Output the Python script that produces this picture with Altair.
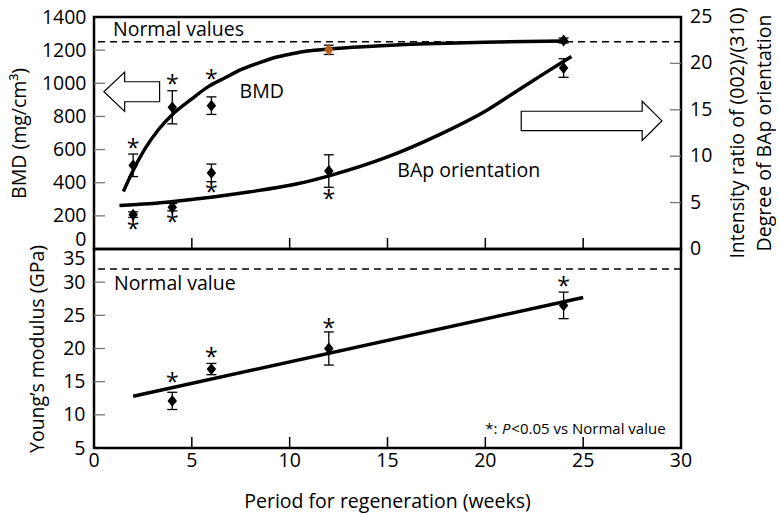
import altair as alt
import pandas as pd

FONT = "Open Sans"
FS = 19.5

# ---------------- data ----------------
weeks = [2, 4, 6, 12, 24]
bmd_mean = [505, 855, 865, 1202, 1258]
bmd_sd = [68, 100, 53, 28, 15]
bap_mean = [3.7, 4.5, 8.2, 8.4, 19.5]
bap_sd = [0.3, 0.4, 0.95, 1.75, 1.0]

ym_weeks = [4, 6, 12, 24]
ym_mean = [12.1, 16.9, 20.0, 26.5]
ym_sd = [1.3, 0.85, 2.5, 2.0]

bmd_fit_weeks = [1.5, 2.0, 2.6, 3.3, 4.1, 5.0, 5.8, 6.7, 7.5, 8.4, 9.2, 10.1, 10.9, 12, 14, 17, 20, 24]
bmd_fit = [347, 474, 604, 721, 822, 906, 977, 1033, 1082, 1122, 1154, 1178, 1195, 1207, 1222, 1238, 1248, 1256]
bap_fit_weeks = [1.3, 2.8, 5.3, 7.9, 10.4, 12.1, 15.0, 17.6, 20.1, 21.3, 23.0, 24.4]
bap_fit = [4.7, 4.87, 5.41, 6.14, 7.03, 7.94, 9.92, 12.27, 14.98, 16.6, 18.9, 20.75]
ym_fit_weeks = [2, 25]
ym_fit = [12.8, 27.7]

bmd_normal = [1250]
ym_normal = [32]

bmd_star_weeks = [2, 4, 6]
bmd_star_y = [630, 1014, 1041]
bap_star_weeks = [2, 4, 6, 12]
bap_star_y = [2.46, 3.25, 6.43, 5.7]
ym_star_weeks = [4, 6, 12, 24]
ym_star_y = [15.44, 19.2, 23.48, 29.9]

top_labels = ["Normal values", "BMD", "BAp orientation"]
top_label_weeks = [0.97, 7.44, 15.5]
top_label_y = [1285, 911, 433]

arrow_kind = ["left", "right"]
arrow_weeks = [1.93, 25.43]
arrow_y = [949, 773]

right_title = ["Intensity ratio of (002)/(310)", "Degree of BAp orientation"]
x_title = "Period for regeneration (weeks)"

# tick positions
x_ticks = [5, 10, 15, 20, 25]
x_labels = [0, 5, 10, 15, 20, 25, 30]
bmd_ticks = [200, 400, 600, 800, 1000, 1200]
bmd_labels = [0, 200, 400, 600, 800, 1000, 1200, 1400]
bap_ticks = [5, 10, 15, 20]
bap_labels = [0, 5, 10, 15, 20, 25]
ym_ticks = [10, 15, 20, 25, 30]
ym_labels = [5, 10, 15, 20, 25, 30, 35]

# ---------------- shapes ----------------
DIAMOND = "M 0 -1.25 L 1 0 L 0 1.25 L -1 0 Z"
LEFT = "M -1.417 0 L -0.361 -1 L -0.361 -0.509 L 1.417 -0.509 L 1.417 0.509 L -0.361 0.509 L -0.361 1 Z"
RIGHT = "M -3.58 -0.491 L 2.575 -0.491 L 2.575 -1 L 3.58 0 L 2.575 1 L 2.575 0.491 L -3.58 0.491 Z"

W = 587
H_TOP = 232
H_BOT = 199
TICK = 11

xscale = alt.Scale(domain=[0, 30], nice=False, zero=False)
x_top = alt.X("week:Q", scale=xscale, axis=None)
x_bot = alt.X("week:Q", scale=xscale, axis=None)

bmd_scale = alt.Scale(domain=[0, 1400], nice=False, zero=False)
bap_scale = alt.Scale(domain=[0, 25], nice=False, zero=False)
ym_scale = alt.Scale(domain=[5, 35], nice=False, zero=False)

bmd_axis = alt.Axis(orient="left", values=bmd_labels, format="d", title="BMD (mg/cm³)",
                    domain=False, grid=False, ticks=False, labelPadding=8, titlePadding=12,
                    labelBaseline={"condition": {"test": "datum.value == 0", "value": "bottom"},
                                   "value": "middle"})
bap_axis = None
ym_axis = alt.Axis(orient="left", values=ym_labels, format="d", title="Young’s modulus (GPa)",
                   domain=False, grid=False, ticks=False, labelPadding=9, titlePadding=15,
                   labelBaseline={"condition": {"test": "datum.value == 35", "value": "top"},
                                  "value": "middle"})


def Y(field, scale, axis):
    return alt.Y(field, scale=scale, axis=axis)


def pts_frame(w, m, s):
    return pd.DataFrame({"week": w, "mean": m,
                         "lo": [a - b for a, b in zip(m, s)],
                         "hi": [a + b for a, b in zip(m, s)]})


bmd_df = pts_frame(weeks, bmd_mean, bmd_sd)
bap_df = pts_frame(weeks, bap_mean, bap_sd)
ym_df = pts_frame(ym_weeks, ym_mean, ym_sd)


def errbars(df, x, scale, axis):
    stem = alt.Chart(df).mark_rule(color="black", strokeWidth=1.3).encode(
        x=x, y=Y("lo:Q", scale, axis), y2="hi:Q")
    caps = alt.Chart(df).transform_fold(["lo", "hi"], as_=["k", "v"]).mark_rule(
        color="black", strokeWidth=1.3, xOffset=-5, x2Offset=5).encode(
        x=x, x2=alt.X2("week:Q"), y=Y("v:Q", scale, axis))
    return alt.layer(stem, caps)


def points(df, x, scale, axis, color=None):
    enc = dict(x=x, y=Y("mean:Q", scale, axis))
    if color is not None:
        enc["color"] = color
    return alt.Chart(df).mark_point(shape=DIAMOND, filled=True, size=90, opacity=1,
                                    color="black").encode(**enc)


def stars(w, yv, x, scale, axis):
    return alt.Chart(pd.DataFrame({"week": w, "v": yv})).mark_text(
        text="*", font=FONT, fontSize=23, baseline="alphabetic", dy=11, color="black").encode(
        x=x, y=Y("v:Q", scale, axis))


def fit_line(w, v, x, scale, axis, interp="monotone"):
    return alt.Chart(pd.DataFrame({"week": w, "v": v})).mark_line(
        color="black", strokeWidth=3.5, interpolate=interp).encode(
        x=x, y=Y("v:Q", scale, axis))


def xticks(x, h):
    return alt.Chart(pd.DataFrame({"week": x_ticks})).mark_rule(color="black", strokeWidth=1.5).encode(
        x=x, y=alt.value(h), y2=alt.value(h - TICK))


def yticks(vals, scale, axis, side):
    if side == "left":
        xv, x2v = alt.value(0), alt.value(TICK)
    else:
        xv, x2v = alt.value(W - TICK), alt.value(W)
    return alt.Chart(pd.DataFrame({"v": vals})).mark_rule(color="#777", strokeWidth=1.3).encode(
        y=Y("v:Q", scale, axis), x=xv, x2=x2v)


# ---------------- top panel ----------------
bmd_dash = alt.Chart(pd.DataFrame({"v": bmd_normal})).mark_rule(
    color="black", strokeWidth=1.5, strokeDash=[7, 5]).encode(
    y=Y("v:Q", bmd_scale, bmd_axis))

bmd_color = alt.condition("datum.week == 12", alt.value("#b5601e"), alt.value("black"))

top_text = alt.Chart(pd.DataFrame({"week": top_label_weeks, "v": top_label_y, "t": top_labels})).mark_text(
    font=FONT, fontSize=FS, align="left", baseline="alphabetic", color="black").encode(
    x=x_top, y=Y("v:Q", bmd_scale, bmd_axis), text="t:N")

arrows = alt.Chart(pd.DataFrame({"week": arrow_weeks, "v": arrow_y, "k": arrow_kind})).mark_point(
    filled=True, fill="white", stroke="black", strokeWidth=1.2, size=1544, opacity=1).encode(
    x=x_top, y=Y("v:Q", bmd_scale, bmd_axis),
    shape=alt.Shape("k:N", scale=alt.Scale(domain=["left", "right"], range=[LEFT, RIGHT]), legend=None))

bmd_group = alt.layer(
    bmd_dash,
    yticks(bmd_ticks, bmd_scale, bmd_axis, "left"),
    xticks(x_top, H_TOP),
    fit_line(bmd_fit_weeks, bmd_fit, x_top, bmd_scale, bmd_axis),
    errbars(bmd_df, x_top, bmd_scale, bmd_axis),
    points(bmd_df, x_top, bmd_scale, bmd_axis, bmd_color),
    stars(bmd_star_weeks, bmd_star_y, x_top, bmd_scale, bmd_axis),
    top_text,
    arrows,
)

# right-hand axis drawn as text through the BAp scale
bap_label_text = alt.Chart(pd.DataFrame({"v": bap_labels})).mark_text(
    font=FONT, fontSize=FS, align="left", baseline="middle", color="black").encode(
    y=Y("v:Q", bap_scale, bap_axis), x=alt.value(W + 9), text="v:Q")


def right_title_line(t, xpos):
    return alt.Chart(pd.DataFrame({"t": [t]})).mark_text(
        font=FONT, fontSize=FS, angle=270, align="center", baseline="top", color="black").encode(
        x=alt.value(xpos), y=alt.value(H_TOP / 2), text="t:N")


bap_group = alt.layer(
    yticks(bap_ticks, bap_scale, bap_axis, "right"),
    fit_line(bap_fit_weeks, bap_fit, x_top, bap_scale, bap_axis),
    errbars(bap_df, x_top, bap_scale, bap_axis),
    points(bap_df, x_top, bap_scale, bap_axis),
    stars(bap_star_weeks, bap_star_y, x_top, bap_scale, bap_axis),
    bap_label_text,
    right_title_line(right_title[0], W + 48),
    right_title_line(right_title[1], W + 75),
)

top = alt.layer(bmd_group, bap_group).resolve_scale(y="independent").properties(width=W, height=H_TOP)

# ---------------- bottom panel ----------------
ym_dash = alt.Chart(pd.DataFrame({"v": ym_normal})).mark_rule(
    color="black", strokeWidth=1.5, strokeDash=[7, 5]).encode(
    y=Y("v:Q", ym_scale, ym_axis))

bot_text = alt.Chart(pd.DataFrame({"week": [1.02], "v": [28.84], "t": ["Normal value"]})).mark_text(
    font=FONT, fontSize=FS, align="left", baseline="alphabetic", color="black").encode(
    x=x_bot, y=Y("v:Q", ym_scale, ym_axis), text="t:N")

note_df = pd.DataFrame({"week": [20.0], "v": [7.06]})


def note_part(t, dx, style="normal"):
    return alt.Chart(note_df).mark_text(
        text=t, font=FONT, fontSize=15, fontStyle=style, align="left", baseline="alphabetic",
        dx=dx, color="black").encode(x=x_bot, y=Y("v:Q", ym_scale, ym_axis))


# x-axis labels and title drawn as text through the x scale
x_label_text = alt.Chart(pd.DataFrame({"week": x_labels})).mark_text(
    font=FONT, fontSize=FS, align="center", baseline="top", color="black").encode(
    x=x_bot, y=alt.value(H_BOT + 4), text="week:Q")

x_title_text = alt.Chart(pd.DataFrame({"t": [x_title]})).mark_text(
    font=FONT, fontSize=FS, align="center", baseline="top", color="black").encode(
    x=alt.value(W / 2), y=alt.value(H_BOT + 45), text="t:N")

bottom = alt.layer(
    ym_dash,
    yticks(ym_ticks, ym_scale, ym_axis, "left"),
    xticks(x_bot, H_BOT),
    fit_line(ym_fit_weeks, ym_fit, x_bot, ym_scale, ym_axis, interp="linear"),
    errbars(ym_df, x_bot, ym_scale, ym_axis),
    points(ym_df, x_bot, ym_scale, ym_axis),
    stars(ym_star_weeks, ym_star_y, x_bot, ym_scale, ym_axis),
    bot_text,
    note_part("*:", 0),
    note_part("P", 16.7, "italic"),
    note_part("<0.05 vs Normal value", 26),
    x_label_text,
    x_title_text,
).properties(width=W, height=H_BOT)

chart = alt.vconcat(top, bottom, spacing=0, bounds="flush").properties(
    padding={"left": 8, "top": 5, "right": 0, "bottom": 0}, background="white"
).configure_view(stroke="black", strokeWidth=2.5).configure_axis(
    labelFont=FONT, titleFont=FONT, labelFontSize=FS, titleFontSize=FS,
    titleFontWeight="normal", labelColor="black", titleColor="black"
)

chart.save("out.html", embed_options={"renderer": "svg", "actions": False})
